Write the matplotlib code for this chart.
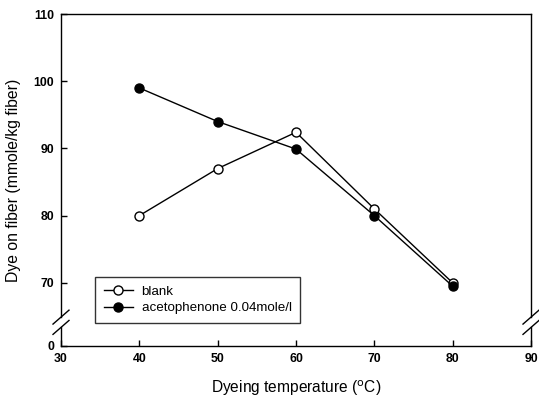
import matplotlib.pyplot as plt
import numpy as np

temperature = [40, 50, 60, 70, 80]
blank = [80.0, 87.0, 92.4, 81.0, 70.0]
acetophenone = [99.0, 94.0, 89.9, 80.0, 69.5]

x_ticks = [30, 40, 50, 60, 70, 80, 90]
y_bottom = 60.6
y_ticks = [y_bottom, 70, 80, 90, 100, 110]
y_tick_labels = ["0", "70", "80", "90", "100", "110"]

plt.rcParams["font.family"] = ["Liberation Sans", "DejaVu Sans"]

fig = plt.figure(figsize=(5.39, 3.99), dpi=100)
ax = fig.add_axes([61 / 539, 53 / 399, 470 / 539, 332 / 399])

ax.plot(temperature, blank, "-o", color="black", lw=1.0, ms=6.5,
        mfc="white", mec="black", mew=1.0, label="blank")
ax.plot(temperature, acetophenone, "-o", color="black", lw=1.0, ms=6.5,
        mfc="black", mec="black", label="acetophenone 0.04mole/l")

ax.set_xlim(30, 90)
ax.set_ylim(y_bottom, 110)
ax.set_xticks(x_ticks)
ax.set_yticks(y_ticks)
ax.set_yticklabels(y_tick_labels)
ax.tick_params(direction="in", length=4, width=1, labelsize=8.8, pad=5)
for lab in ax.get_xticklabels() + ax.get_yticklabels():
    lab.set_fontweight("bold")

ax.set_xlabel("Dyeing temperature ($^{\\mathrm{o}}$C)", fontsize=11.2, labelpad=10)
ax.set_ylabel("Dye on fiber (mmole/kg fiber)", fontsize=11.3, labelpad=9)

# broken axis: hide side spines and redraw with a gap
for side in ["left", "right", "top", "bottom"]:
    ax.spines[side].set_linewidth(1.0)
ax.spines["left"].set_visible(False)
ax.spines["right"].set_visible(False)
gap_lo, gap_hi = 0.056, 0.087
for xs in (0, 1):
    ax.plot([xs, xs], [0, gap_lo], color="black", lw=1.0,
            transform=ax.transAxes, clip_on=False)
    ax.plot([xs, xs], [gap_hi, 1], color="black", lw=1.0,
            transform=ax.transAxes, clip_on=False)
    for yc in (gap_lo, gap_hi):
        ax.plot([xs - 0.017, xs + 0.017], [yc - 0.021, yc + 0.021],
                color="black", lw=1.0, transform=ax.transAxes, clip_on=False)

leg = ax.legend(loc="lower left", bbox_to_anchor=(0.072, 0.069),
                prop={"size": 9.6}, frameon=True, fancybox=False,
                edgecolor="black", borderaxespad=0, handlelength=2.2,
                handletextpad=0.65, borderpad=0.65, labelspacing=0.3)
leg.get_frame().set_linewidth(1.0)

fig.savefig("out.png", dpi=100)
